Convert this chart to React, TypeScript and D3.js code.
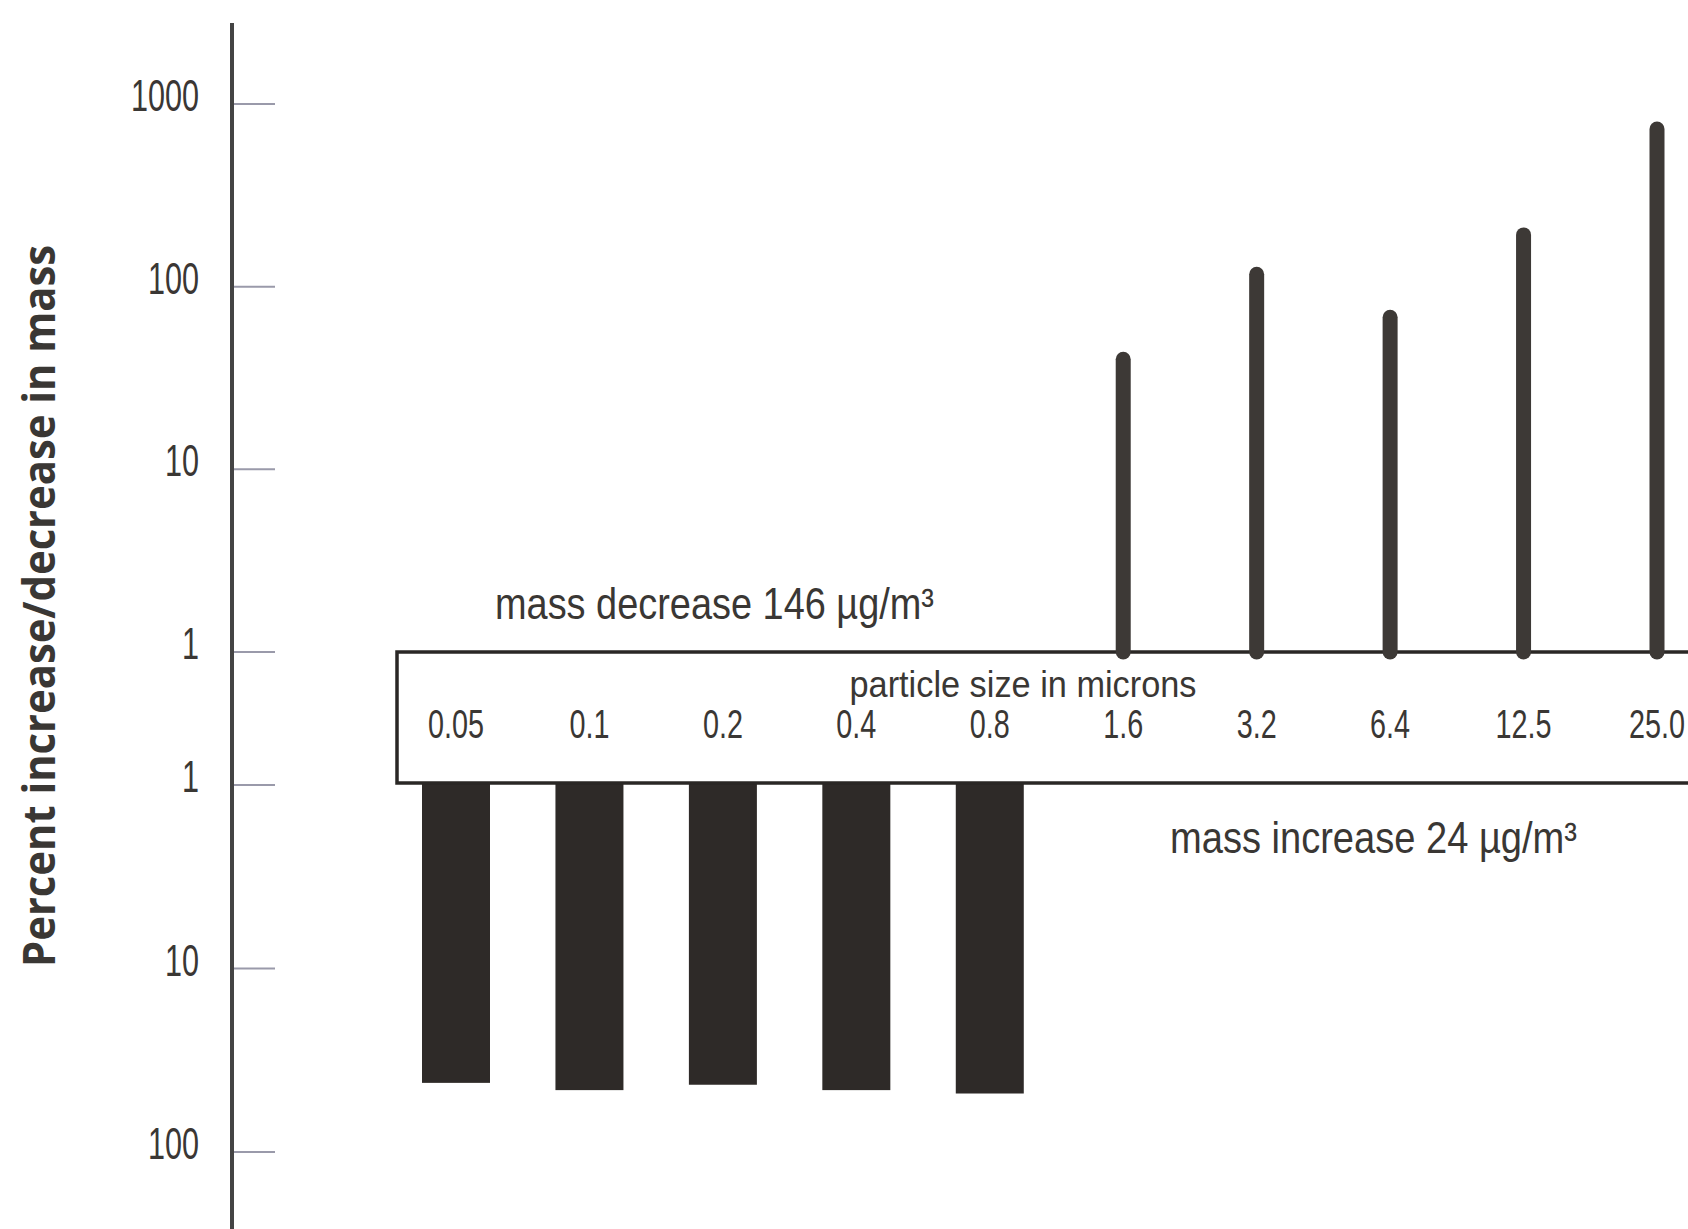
import * as d3 from "d3";

// particle sizes in microns, left to right
const sizes = ["0.05", "0.1", "0.2", "0.4", "0.8", "1.6", "3.2", "6.4", "12.5", "25.0"];

// percent decrease (bars hanging under the box)
const decreaseSizes = ["0.05", "0.1", "0.2", "0.4", "0.8"];
const decreaseValues = [42, 46, 43, 46, 48];

// percent increase (stems standing on the box)
const increaseSizes = ["1.6", "3.2", "6.4", "12.5", "25.0"];
const increaseValues = [40, 117, 68, 192, 730];

const upperTicks = [1, 10, 100, 1000];
const lowerTicks = [1, 10, 100];

const width = 1688;
const height = 1229;

const ink = "#2e2a28";
const textColor = "#3a3734";
const condensed = "'Liberation Sans', Arial, sans-serif";

export default function App() {
  const x = d3.scalePoint<string>().domain(sizes).range([456, 1657]);
  const yUp = d3.scaleLog().domain([1, 1000]).range([652, 104]);
  const yDown = d3.scaleLog().domain([1, 100]).range([785, 1152]);

  const axisX = 232;
  const barWidth = 68;
  const boxTop = yUp(1);
  const boxBottom = yDown(1) - 2;

  const tickLabel = (t: number) => (
    <text transform={`translate(199,7) scale(0.68,1)`} textAnchor="end"
          fontFamily={condensed} fontSize={45} fill={textColor}>{t}</text>
  );

  return (
    <div style={{ position: "absolute", left: 0, top: 0 }}>
      <svg width={width} height={height} style={{ display: "block", background: "#fff" }}>
        {/* y axis */}
        <line x1={axisX} x2={axisX} y1={23} y2={height} stroke="#444" strokeWidth={4} />
        {upperTicks.map(t => (
          <g key={"u" + t} transform={`translate(0,${yUp(t)})`}>
            <line x1={axisX + 2} x2={275} stroke="#9a9aaa" strokeWidth={2} />
            {tickLabel(t)}
          </g>
        ))}
        {lowerTicks.map(t => (
          <g key={"l" + t} transform={`translate(0,${yDown(t)})`}>
            <line x1={axisX + 2} x2={275} stroke="#9a9aaa" strokeWidth={2} />
            {tickLabel(t)}
          </g>
        ))}

        <text transform="translate(55,606) rotate(-90)" textAnchor="middle"
              fontFamily="'Open Sans', sans-serif" fontWeight={700} fontSize={44}
              textLength={722} lengthAdjust="spacingAndGlyphs" fill={textColor}>
          Percent increase/decrease in mass
        </text>

        {/* decrease bars */}
        {decreaseSizes.map((s, i) => (
          <rect key={s} x={(x(s) ?? 0) - barWidth / 2} y={boxBottom}
                width={barWidth} height={yDown(decreaseValues[i]) - boxBottom} fill={ink} />
        ))}

        {/* the particle size box */}
        <rect x={397} y={boxTop} width={1400} height={boxBottom - boxTop}
              fill="#fff" stroke="#2a2725" strokeWidth={3.5} />

        {/* increase stems */}
        {increaseSizes.map((s, i) => (
          <line key={s} x1={x(s)} x2={x(s)} y1={boxTop} y2={yUp(increaseValues[i])}
                stroke="#3d3936" strokeWidth={15} strokeLinecap="round" />
        ))}

        <text x={1023} y={697} textAnchor="middle" fontFamily={condensed} fontSize={36}
              textLength={347} lengthAdjust="spacingAndGlyphs" fill={textColor}>
          particle size in microns
        </text>
        {sizes.map(s => (
          <text key={s} transform={`translate(${x(s)},738) scale(0.72,1)`} textAnchor="middle"
                fontFamily={condensed} fontSize={40} fill={textColor}>{s}</text>
        ))}

        <text x={495} y={619} fontFamily={condensed} fontSize={44}
              textLength={439} lengthAdjust="spacingAndGlyphs" fill={textColor}>
          mass decrease 146 µg/m³
        </text>
        <text x={1170} y={853} fontFamily={condensed} fontSize={44}
              textLength={407} lengthAdjust="spacingAndGlyphs" fill={textColor}>
          mass increase 24 µg/m³
        </text>
      </svg>
    </div>
  );
}
